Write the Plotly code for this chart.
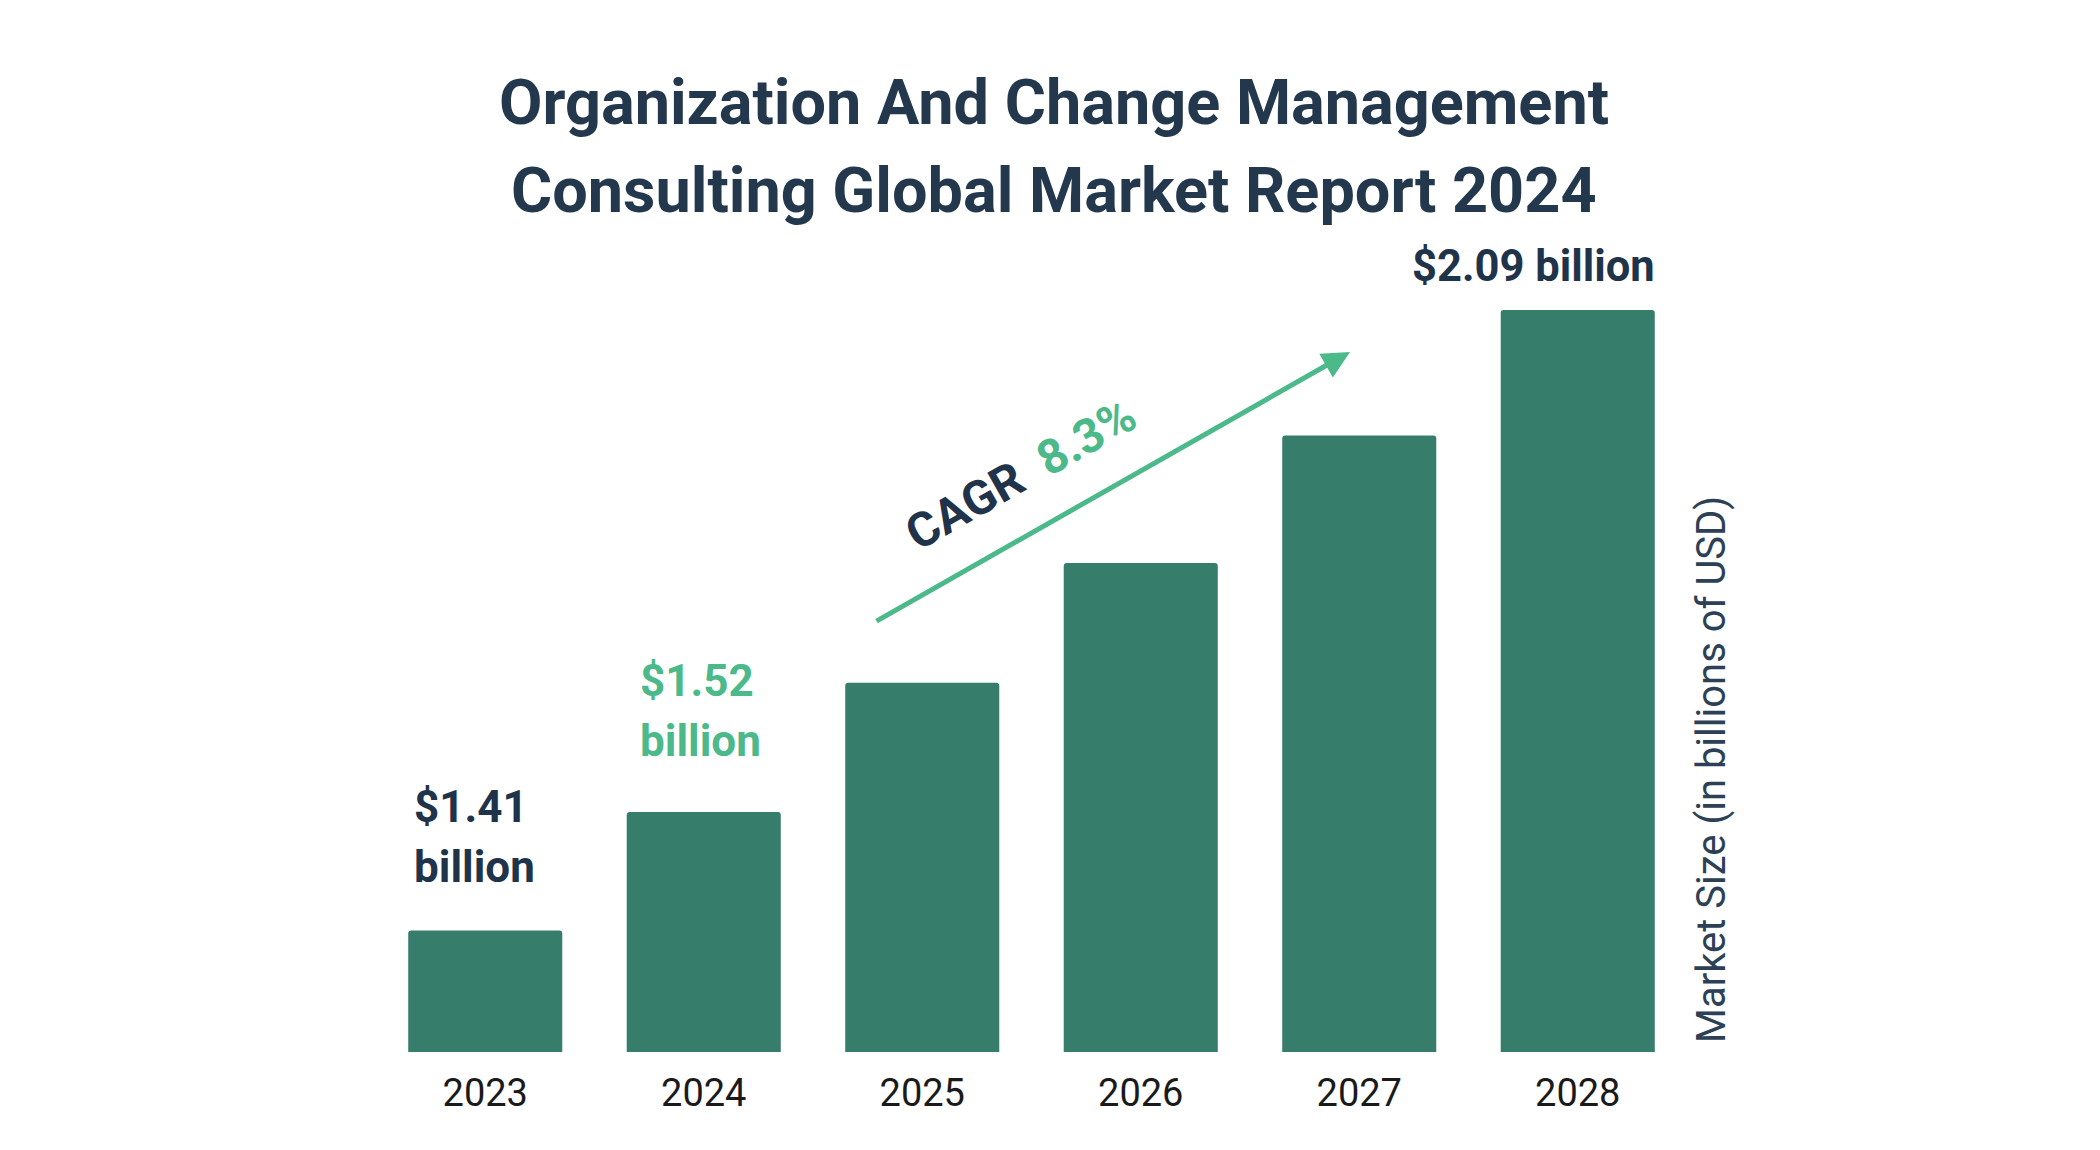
import math
import plotly.graph_objects as go

years = ["2023", "2024", "2025", "2026", "2027", "2028"]
market_size = [1.41, 1.52, 1.65, 1.78, 1.93, 2.09]
label_2023 = ["$1.41", "billion"]
label_2024 = ["$1.52", "billion"]
label_2028 = "$2.09 billion"
cagr_word = "CAGR"
cagr_value = "8.3%"
title_lines = ["Organization And Change Management", "Consulting Global Market Report 2024"]
axis_title = "Market Size (in billions of USD)"

W, H = 2100, 1150
OFF = 8  # page body margin
L, R, T, B = 376 - OFF, 413 + OFF, 250 - OFF, 98 + OFF
PW = W - L - R
PH = H - T - B


def px(x):
    return (x - OFF - L) / PW


def py(y):
    return (H - B - (y - OFF)) / PH


BAR = "#367d6b"
GREEN = "#4cb98a"
NAVY = "#1f334a"
FONT = "Roboto"

fig = go.Figure(
    go.Bar(
        x=years,
        y=market_size,
        marker=dict(color=BAR, line=dict(width=0), cornerradius=3),
        hoverinfo="skip",
    )
)

ln_base = 0.2666
ln_top = ln_base + PH / 1577.0

fig.update_layout(
    width=W,
    height=H,
    margin=dict(l=L, r=R, t=T, b=B),
    paper_bgcolor="white",
    plot_bgcolor="white",
    showlegend=False,
    bargap=0.295,
    font=dict(family=FONT, color=NAVY),
    xaxis=dict(
        showgrid=False,
        zeroline=False,
        showline=False,
        ticks="",
        tickfont=dict(family=FONT, size=38, color="#1a1a1a"),
        ticklabelstandoff=15,
    ),
    yaxis=dict(
        type="log",
        range=[ln_base / math.log(10), ln_top / math.log(10)],
        showgrid=False,
        zeroline=False,
        showline=False,
        showticklabels=False,
        ticks="",
    ),
)

ann = []
# title
for txt, yy in zip(title_lines, [103, 190]):
    ann.append(dict(text=txt, x=px(1054), y=py(yy), xref="paper", yref="paper",
                    xanchor="center", yanchor="middle", showarrow=False,
                    font=dict(family=FONT, size=63, color="#23384d", weight=700)))
# value labels
for txt, yy in zip(label_2023, [807, 867]):
    ann.append(dict(text=txt, x=px(412), y=py(yy), xref="paper", yref="paper",
                    xanchor="left", yanchor="middle", showarrow=False,
                    font=dict(family=FONT, size=44, color=NAVY, weight=700)))
for txt, yy in zip(label_2024, [681, 741]):
    ann.append(dict(text=txt, x=px(638), y=py(yy), xref="paper", yref="paper",
                    xanchor="left", yanchor="middle", showarrow=False,
                    font=dict(family=FONT, size=44, color=GREEN, weight=700)))
ann.append(dict(text=label_2028, x=px(1533), y=py(267), xref="paper", yref="paper",
                xanchor="center", yanchor="middle", showarrow=False,
                font=dict(family=FONT, size=43.5, color=NAVY, weight=700)))
# CAGR arrow
ann.append(dict(text="", x=px(1350), y=py(352), xref="paper", yref="paper",
                ax=875 - 1350, ay=622 - 352, axref="pixel", ayref="pixel",
                showarrow=True, arrowhead=2, arrowsize=1.1, arrowwidth=5,
                arrowcolor=GREEN, standoff=0))
ann.append(dict(text=f"<span style='color:{NAVY}'>{cagr_word}</span>&nbsp;&nbsp;<span style='color:{GREEN}'>{cagr_value}</span>",
                x=px(1020), y=py(474), xref="paper", yref="paper",
                xanchor="center", yanchor="middle", showarrow=False, textangle=-29.6,
                font=dict(family=FONT, size=48, color=NAVY, weight=700)))
# axis title
ann.append(dict(text=axis_title, x=px(1711), y=py(770), xref="paper", yref="paper",
                xanchor="center", yanchor="middle", showarrow=False, textangle=-90,
                font=dict(family=FONT, size=40, color="#2d4156")))

fig.update_layout(annotations=ann)
fig.write_html("out.html")
